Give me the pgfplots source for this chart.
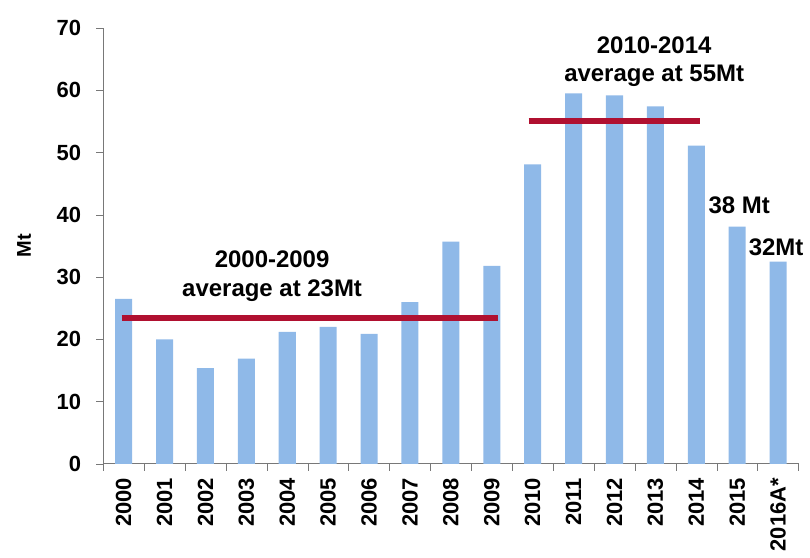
\documentclass[border=0pt]{standalone}
\usepackage{pgfplots}
\pgfplotsset{compat=1.18}
\usepackage{fontspec}
\setmainfont{Liberation Sans}
\definecolor{barblue}{RGB}{143,185,232}
\definecolor{avgred}{RGB}{176,16,48}
\definecolor{axgray}{RGB}{120,120,120}
\begin{document}
\begin{tikzpicture}
\begin{axis}[
  scale only axis,
  width=347bp, height=217.5bp,
  xmin=-0.5, xmax=16.5,
  ymin=0, ymax=70,
  ytick={0,10,...,70},
  xtick={0,...,16},
  xticklabels={2000,2001,2002,2003,2004,2005,2006,2007,2008,2009,2010,2011,2012,2013,2014,2015,2016A*},
  x tick label style={rotate=90, anchor=east, font=\fontsize{11}{13}\selectfont\bfseries},
  y tick label style={font=\fontsize{11}{13}\selectfont\bfseries, xshift=-4bp},
  /pgf/number format/assume math mode=true,
  major x tick style={draw=none},
  minor xtick={-0.5,0.5,...,16.5},
  minor tick length=3.5bp,
  major tick length=3.5bp,
  tick align=outside,
  tick style={axgray},
  axis x line*=bottom,
  axis y line*=left,
  axis line style={axgray, line width=0.6pt},
  ylabel={\bfseries Mt},
  ylabel style={font=\fontsize{10}{12}\selectfont, yshift=6bp},
  clip=false,
]
\addplot[ybar, bar width=8.5bp, fill=barblue, draw=none] coordinates {
 (0,26.5) (1,20.0) (2,15.4) (3,16.9) (4,21.2) (5,22.0) (6,20.9) (7,26.0) (8,35.7) (9,31.8)
 (10,48.1) (11,59.5) (12,59.2) (13,57.4) (14,51.1) (15,38.1) (16,32.5)
};
\addplot[avgred, line width=3bp] coordinates {(-0.05,23.4) (9.15,23.4)};
\addplot[avgred, line width=3bp] coordinates {(9.9,55.0) (14.1,55.0)};
\node[align=center, font=\fontsize{12}{14.5}\selectfont\bfseries] at (axis cs:3.63,30.2) {2000-2009\\average at 23Mt};
\node[align=center, font=\fontsize{12}{14.5}\selectfont\bfseries] at (axis cs:12.97,64.6) {2010-2014\\average at 55Mt};
\node[font=\fontsize{12}{14}\selectfont\bfseries] at (axis cs:15.05,41.6) {38 Mt};
\node[font=\fontsize{12}{14}\selectfont\bfseries] at (axis cs:15.95,34.8) {32Mt};
\path (axis cs:-0.5,70) ++(-51.5bp,14bp);
\end{axis}
\end{tikzpicture}
\end{document}
